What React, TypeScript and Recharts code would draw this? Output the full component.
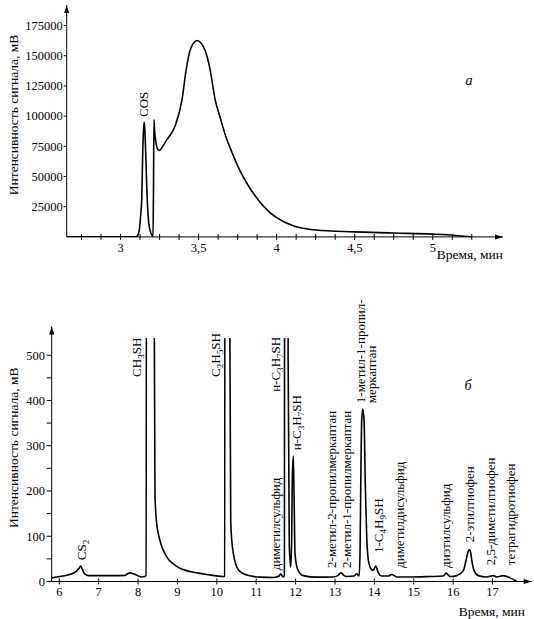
import { LineChart, Line, XAxis, YAxis, ReferenceDot } from 'recharts';

const SERIF = 'Liberation Serif, Times New Roman, serif';

// --- (a) COS / air region, 2.6–5.4 min ---
const TIME_A = [
  2.655, 3.09, 3.105, 3.12, 3.13, 3.136, 3.142, 3.147, 3.151, 3.155, 3.161, 3.167, 3.172, 3.18, 3.19,
  3.2, 3.208, 3.211, 3.214, 3.218, 3.227, 3.24, 3.25, 3.265, 3.296, 3.35, 3.393, 3.42, 3.442, 3.465,
  3.49, 3.515, 3.543, 3.57, 3.607, 3.64, 3.672, 3.72, 3.757, 3.811, 3.886, 3.95, 4.0, 4.11, 4.25,
  4.5, 4.75, 5.0, 5.15, 5.22, 5.25,
];
const SIGNAL_A = [
  0, 0, 500, 5700, 20000, 32000, 70000, 88000, 95000, 90000, 70000, 45000, 28000, 12000, 5000,
  1500, 500, 40000, 97000, 88000, 78000, 72000, 71500, 74000, 80300, 92000, 113000, 138000, 153000, 160000,
  162600, 160500, 154000, 141000, 113000, 98000, 84000, 68000, 57000, 44000, 30000, 21000, 16000, 9000, 5700,
  4200, 3200, 2300, 1200, 300, 0,
];
const X_DOMAIN_A = [2.655, 5.45];
const Y_DOMAIN_A = [0, 192000];
const TICKS_X_A = [
  2.75, 2.875, 3, 3.125, 3.25, 3.375, 3.5, 3.625, 3.75, 3.875, 4, 4.125, 4.25, 4.375, 4.5, 4.625,
  4.75, 4.875, 5, 5.125, 5.25,
];
const LABELED_X_A = [3, 3.5, 4, 4.5, 5];
const TICKS_Y_A = [25000, 50000, 75000, 100000, 125000, 150000, 175000];

// --- (б) sulfur compounds, 6–18 min ---
const TIME_B = [
  5.807, 6.018, 6.315, 6.424, 6.5, 6.543, 6.58, 6.609, 6.67, 6.736, 7.0, 7.4, 7.668, 7.73, 7.795,
  7.88, 7.965, 8.092, 8.17, 8.202, 8.235, 8.39, 8.405, 8.43, 8.47, 8.514, 8.6, 8.685, 8.78, 8.895,
  9.05, 9.235, 9.5, 9.743, 10.165, 10.2, 10.215, 10.305, 10.317, 10.353, 10.385, 10.419, 10.48, 10.545, 10.68,
  10.843, 11.097, 11.45, 11.58, 11.622, 11.66, 11.688, 11.715, 11.731, 11.795, 11.81, 11.84, 11.876, 11.9, 11.917,
  11.942, 11.96, 11.985, 12.03, 12.069, 12.12, 12.196, 12.536, 12.95, 13.07, 13.153, 13.23, 13.298, 13.48, 13.552,
  13.611, 13.636, 13.654, 13.679, 13.705, 13.738, 13.771, 13.806, 13.847, 13.9, 13.933, 13.974, 14.035, 14.101, 14.187,
  14.35, 14.441, 14.568, 14.9, 15.414, 15.75, 15.82, 15.922, 16.092, 16.259, 16.328, 16.38, 16.412, 16.445, 16.473,
  16.531, 16.64, 16.853, 17.021, 17.107, 17.275, 17.445, 17.615,
];
const SIGNAL_B = [
  8, 11, 17, 22, 29, 34, 28, 22, 15, 13, 13, 13, 13.5, 17, 19,
  17, 14, 10, 11, 13, 3000, 3000, 700, 190, 130, 106, 78, 61, 48, 39,
  30, 24, 19, 15.5, 11, 12, 3000, 3000, 800, 135, 85, 62, 38, 26, 17,
  12.6, 9.6, 9, 12, 17, 12, 10, 14, 3000, 3000, 500, 80, 32, 90, 230,
  277, 200, 61, 33, 24, 17, 13, 9.6, 10, 13, 19, 13, 11, 12, 17,
  12, 61, 209, 357, 381, 357, 209, 98, 47, 30, 26, 25, 34, 19, 12,
  12, 15.5, 10, 10, 11, 12, 18.5, 11, 13, 24, 47, 66, 70, 64, 47,
  24, 13, 10, 13, 10, 13, 8, 0,
];
const X_DOMAIN_B = [5.807, 17.995];
const Y_DOMAIN_B = [0, 538];
const TICKS_X_B = [6, 7, 8, 9, 10, 11, 12, 13, 14, 15, 16, 17];
const TICKS_Y_B = [0, 50, 100, 150, 200, 250, 300, 350, 400, 450, 500];
const LABELED_Y_B = [0, 100, 200, 300, 400, 500];

// peak names: odd entries are subscripts
const PEAK_NAMES_B = [
  ['CS', '2'],
  ['CH', '3', 'SH'],
  ['C', '2', 'H', '5', 'SH'],
  ['н-C', '3', 'H', '7', 'SH'],
  ['диметилсульфид'],
  ['н-C', '3', 'H', '7', 'SH'],
  ['2-метил-2-пропилмеркаптан'],
  ['2-метил-1-пропилмеркаптан'],
  ['1-метил-1-пропил-'],
  ['меркаптан'],
  ['1-C', '4', 'H', '9', 'SH'],
  ['диметилдисульфид'],
  ['диэтилсульфид'],
  ['2-этилтиофен'],
  ['2,5-диметилтиофен'],
  ['тетрагидротиофен'],
];
const PEAK_NAME_T_B = [
  6.569, 7.965, 9.954, 11.478, 11.478, 12.028, 12.917, 13.28, 13.636, 13.933, 14.093, 14.626, 15.794,
  16.412, 16.937, 17.445,
];
const PEAK_NAME_V_B = [47, 452, 452, 419, 25, 290, 30, 30, 394, 394, 63, 30, 30, 87, 36, 36];

const dataA = TIME_A.map((t, i) => ({ t, v: SIGNAL_A[i] }));
const dataB = TIME_B.map((t, i) => ({ t, v: SIGNAL_B[i] }));

const fmtComma = (v: number) => String(v).replace('.', ',');

function makeXTick(labeled: number[] | null, half: number, gap: number) {
  return (props: any) => {
    const { x, y, payload } = props;
    const show = !labeled || labeled.includes(payload.value);
    return (
      <g>
        <line x1={x} x2={x} y1={y - half} y2={y + half} stroke="#000" />
        {show && (
          <text
            x={x}
            y={y + gap}
            dy="0.71em"
            textAnchor="middle"
            fontSize={12.5}
            fontFamily={SERIF}
            fill="#000"
          >
            {fmtComma(payload.value)}
          </text>
        )}
      </g>
    );
  };
}

function makeYTick(labeled: number[] | null, len: number, gap: number) {
  return (props: any) => {
    const { x, y, payload } = props;
    const show = !labeled || labeled.includes(payload.value);
    return (
      <g>
        <line x1={x - len} x2={x} y1={y} y2={y} stroke="#000" />
        {show && (
          <text
            x={x - len - gap}
            y={y}
            dy="0.35em"
            textAnchor="end"
            fontSize={12.5}
            fontFamily={SERIF}
            fill="#000"
          >
            {payload.value}
          </text>
        )}
      </g>
    );
  };
}

function VLabel({ cx, cy, parts, size = 13 }: { cx: number; cy: number; parts: string[]; size?: number }) {
  return (
    <text
      x={cx}
      y={cy}
      dy="0.35em"
      transform={`rotate(-90 ${cx} ${cy})`}
      fontSize={size}
      fontFamily={SERIF}
      fill="#000"
    >
      {parts.map((p, i) =>
        i % 2 ? (
          <tspan key={i} fontSize={size * 0.7} dy={3}>
            {p}
          </tspan>
        ) : (
          <tspan key={i} dy={i ? -3 : undefined}>
            {p}
          </tspan>
        ),
      )}
    </text>
  );
}

const arrowRight = (p: any) => (
  <polygon points={`${p.cx},${p.cy} ${p.cx - 8},${p.cy - 2.5} ${p.cx - 8},${p.cy + 2.5}`} fill="#000" />
);

const arrowUp = (ext: number) => (p: any) => (
  <g>
    {ext > 0 && <line x1={p.cx} x2={p.cx} y1={p.cy} y2={p.cy - ext} stroke="#000" />}
    <polygon
      points={`${p.cx},${p.cy - ext} ${p.cx - 2.5},${p.cy - ext + 8} ${p.cx + 2.5},${p.cy - ext + 8}`}
      fill="#000"
    />
  </g>
);

const yTitle = (shift: number) => (props: any) => {
  const vb = props.viewBox;
  const cx = vb.x + 13;
  const cy = vb.y + vb.height / 2 + shift;
  return (
    <text
      x={cx}
      y={cy}
      dy="0.35em"
      textAnchor="middle"
      transform={`rotate(-90 ${cx} ${cy})`}
      fontSize={13.5}
      fontFamily={SERIF}
      fill="#000"
    >
      Интенсивность сигнала, мВ
    </text>
  );
};

const xTitle = (dx: number, dy: number) => (props: any) => {
  const vb = props.viewBox;
  return (
    <text
      x={vb.x + vb.width + dx}
      y={vb.y + dy}
      textAnchor="end"
      fontSize={13.5}
      fontFamily={SERIF}
      fill="#000"
    >
      Время, мин
    </text>
  );
};

const italicMark = (ch: string) => (p: any) => (
  <text
    x={p.cx}
    y={p.cy}
    dy="0.35em"
    textAnchor="middle"
    fontSize={14}
    fontStyle="italic"
    fontFamily={SERIF}
    fill="#000"
  >
    {ch}
  </text>
);

export default function App() {
  return (
    <div
      style={{
        position: 'absolute',
        left: 0,
        top: 0,
        width: 534,
        height: 619,
        background: '#fff',
        fontFamily: SERIF,
      }}
    >
      <div style={{ position: 'absolute', left: 0, top: 0 }}>
        <LineChart width={534} height={270} data={dataA} margin={{ top: 5, right: 31, bottom: 0, left: 0 }}>
          <XAxis
            type="number"
            dataKey="t"
            domain={X_DOMAIN_A}
            allowDataOverflow
            ticks={TICKS_X_A}
            interval={0}
            tick={makeXTick(LABELED_X_A, 3, 6.5)}
            tickLine={false}
            tickSize={0}
            tickMargin={0}
            axisLine={{ stroke: '#000' }}
            height={33.1}
            label={xTitle(0, 22.5)}
          />
          <YAxis
            type="number"
            domain={Y_DOMAIN_A}
            allowDataOverflow
            ticks={TICKS_Y_A}
            interval={0}
            tick={makeYTick(null, 3, 1)}
            tickLine={false}
            tickSize={0}
            tickMargin={0}
            axisLine={{ stroke: '#000' }}
            width={66.7}
            label={yTitle(-6)}
          />
          <Line type="monotone" dataKey="v" stroke="#000" strokeWidth={1.6} dot={false} isAnimationActive={false} />
          <ReferenceDot
            x={3.144}
            y={99300}
            r={0}
            ifOverflow="visible"
            shape={(p: any) => <VLabel cx={p.cx} cy={p.cy} parts={['COS']} />}
          />
          <ReferenceDot x={5.232} y={129900} r={0} ifOverflow="visible" shape={italicMark('а')} />
          <ReferenceDot x={X_DOMAIN_A[1]} y={0} r={0} ifOverflow="visible" shape={arrowRight} />
          <ReferenceDot x={X_DOMAIN_A[0]} y={Y_DOMAIN_A[1]} r={0} ifOverflow="visible" shape={arrowUp(0)} />
        </LineChart>
      </div>

      <div style={{ position: 'absolute', left: 0, top: 270 }}>
        <LineChart width={534} height={349} data={dataB} margin={{ top: 68, right: 2.3, bottom: 0, left: 0 }}>
          <XAxis
            type="number"
            dataKey="t"
            domain={X_DOMAIN_B}
            allowDataOverflow
            ticks={TICKS_X_B}
            interval={0}
            tick={makeXTick(null, 3, 6)}
            tickLine={false}
            tickSize={0}
            tickMargin={0}
            axisLine={{ stroke: '#000' }}
            height={37.5}
            label={xTitle(-6.7, 34.5)}
          />
          <YAxis
            type="number"
            domain={Y_DOMAIN_B}
            allowDataOverflow
            ticks={TICKS_Y_B}
            interval={0}
            tick={makeYTick(LABELED_Y_B, 5, 1.7)}
            tickLine={false}
            tickSize={0}
            tickMargin={0}
            axisLine={{ stroke: '#000' }}
            width={51.7}
            label={yTitle(-12)}
          />
          <Line type="monotone" dataKey="v" stroke="#000" strokeWidth={1.6} dot={false} isAnimationActive={false} />
          {PEAK_NAMES_B.map((parts, i) => (
            <ReferenceDot
              key={i}
              x={PEAK_NAME_T_B[i]}
              y={PEAK_NAME_V_B[i]}
              r={0}
              ifOverflow="visible"
              shape={(p: any) => <VLabel cx={p.cx} cy={p.cy} parts={parts} />}
            />
          ))}
          <ReferenceDot x={16.378} y={434} r={0} ifOverflow="visible" shape={italicMark('б')} />
          <ReferenceDot x={X_DOMAIN_B[1]} y={0} r={0} ifOverflow="visible" shape={arrowRight} />
          <ReferenceDot x={X_DOMAIN_B[0]} y={Y_DOMAIN_B[1]} r={0} ifOverflow="visible" shape={arrowUp(11.5)} />
        </LineChart>
      </div>
    </div>
  );
}
